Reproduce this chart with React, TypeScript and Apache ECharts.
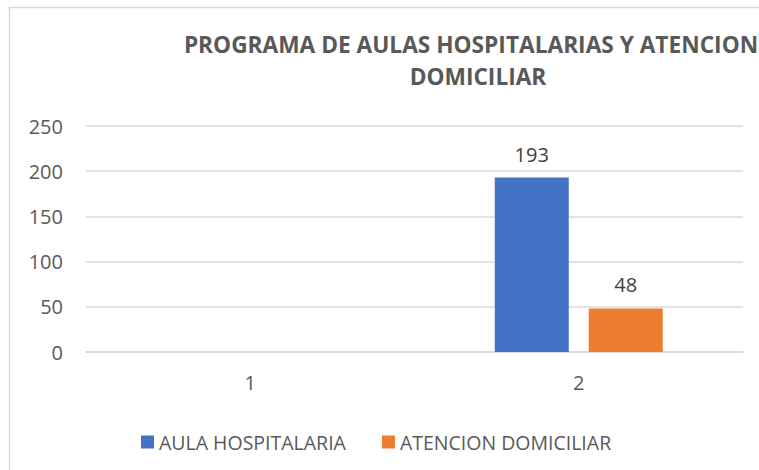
import React, { useEffect, useRef } from "react";
import * as echarts from "echarts";

const categories = ["1", "2"];
const aulaHospitalaria: (number | null)[] = [null, 193];
const atencionDomiciliar: (number | null)[] = [null, 48];
const seriesNames = ["AULA HOSPITALARIA", "ATENCION DOMICILIAR"];
const titleLines = ["PROGRAMA DE AULAS HOSPITALARIAS Y ATENCION", "DOMICILIAR"];

const FONT = "Open Sans";

export default function App() {
  const ref = useRef<HTMLDivElement>(null);
  useEffect(() => {
    if (!ref.current) return;
    const chart = echarts.init(ref.current, undefined, { renderer: "svg" });
    chart.setOption({
      animation: false,
      backgroundColor: "#ffffff",
      textStyle: { fontFamily: FONT },
      title: [
        {
          text: titleLines[0],
          left: 466,
          top: 28,
          textAlign: "center",
          textStyle: { fontFamily: FONT, fontWeight: "bold", fontSize: 22.7, color: "#595959" },
        },
        {
          text: titleLines[1],
          left: 473,
          top: 60,
          textAlign: "center",
          textStyle: { fontFamily: FONT, fontWeight: "bold", fontSize: 22.7, color: "#595959" },
        },
      ],
      graphic: [
        {
          type: "polyline",
          shape: { points: [[9.5, 480], [9.5, 7.5], [780, 7.5]] },
          style: { stroke: "#d9d9d9", lineWidth: 1.5, fill: null },
          silent: true,
        },
      ],
      legend: {
        left: 136,
        top: 427,
        itemWidth: 13,
        itemHeight: 13,
        itemGap: 36,
        icon: "rect",
        textStyle: { fontFamily: FONT, fontSize: 19.5, color: "#595959" },
        data: seriesNames,
      },
      grid: { left: 86, right: 16, top: 126, bottom: 118, containLabel: false },
      xAxis: {
        type: "category",
        data: categories,
        axisLine: { lineStyle: { color: "#d9d9d9", width: 1.5 } },
        axisTick: { show: false },
        axisLabel: { fontFamily: FONT, fontSize: 20, color: "#595959", margin: 20 },
      },
      yAxis: {
        type: "value",
        min: 0,
        max: 250,
        interval: 50,
        axisLine: { show: false },
        axisTick: { show: false },
        splitLine: { lineStyle: { color: "#d9d9d9", width: 1.5 } },
        axisLabel: { fontFamily: FONT, fontSize: 20, color: "#595959", margin: 23 },
      },
      series: [
        {
          name: seriesNames[0],
          type: "bar",
          data: aulaHospitalaria,
          barWidth: 74,
          barGap: "27%",
          itemStyle: { color: "#4472c4" },
          label: { show: true, position: "top", distance: 13, fontFamily: FONT, fontSize: 20, color: "#404040" },
        },
        {
          name: seriesNames[1],
          type: "bar",
          data: atencionDomiciliar,
          barWidth: 74,
          itemStyle: { color: "#ed7d31" },
          label: { show: true, position: "top", distance: 14, fontFamily: FONT, fontSize: 20, color: "#404040" },
        },
      ],
    });
    return () => chart.dispose();
  }, []);
  return <div ref={ref} style={{ width: 759, height: 470, position: "absolute", left: 0, top: 0 }} />;
}
